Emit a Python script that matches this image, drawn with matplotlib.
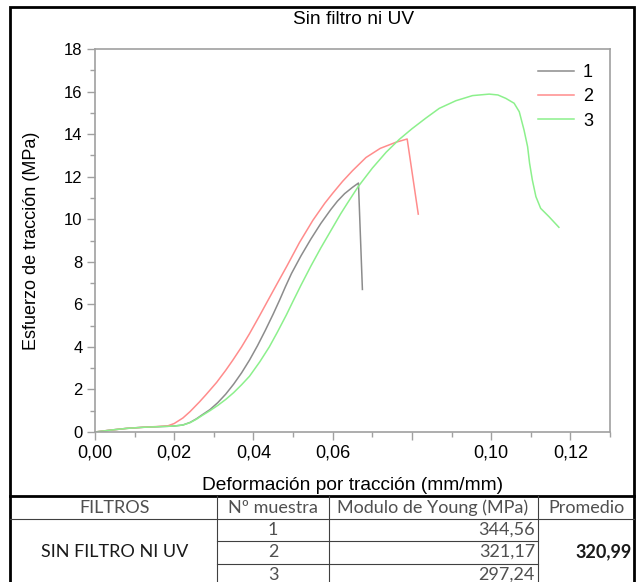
import numpy as np
import matplotlib.pyplot as plt
from matplotlib.lines import Line2D
from matplotlib.patches import Rectangle

# curva 1 (gris)
x1 = [0.0, 0.004, 0.008, 0.012, 0.016, 0.020, 0.0222, 0.024, 0.0256, 0.027, 0.029, 0.031,
      0.033, 0.035, 0.037, 0.039, 0.041, 0.043, 0.045, 0.0466, 0.048, 0.0496, 0.052,
      0.0545, 0.057, 0.0595, 0.0612, 0.063, 0.065, 0.0665, 0.0675]
y1 = [0.0, 0.09, 0.17, 0.22, 0.25, 0.28, 0.33, 0.45, 0.62, 0.80, 1.05, 1.38,
      1.78, 2.25, 2.78, 3.38, 4.05, 4.78, 5.55, 6.20, 6.80, 7.45, 8.28,
      9.07, 9.80, 10.45, 10.85, 11.20, 11.50, 11.70, 6.70]

# curva 2 (roja)
x2 = [0.0, 0.004, 0.008, 0.012, 0.016, 0.0184, 0.020, 0.0222, 0.024, 0.0264, 0.028, 0.0307,
      0.033, 0.0348, 0.037, 0.039, 0.0415, 0.0437, 0.046, 0.0485, 0.0516, 0.055, 0.058,
      0.060, 0.0625, 0.065, 0.0684, 0.072, 0.076, 0.0788, 0.0816]
y2 = [0.0, 0.09, 0.17, 0.22, 0.26, 0.29, 0.40, 0.66, 0.96, 1.42, 1.75, 2.33,
      2.90, 3.38, 4.00, 4.62, 5.45, 6.20, 6.98, 7.82, 8.90, 9.95, 10.75,
      11.22, 11.78, 12.28, 12.90, 13.33, 13.62, 13.77, 10.24]

# curva 3 (verde)
x3 = [0.0, 0.004, 0.008, 0.012, 0.016, 0.020, 0.0222, 0.024, 0.0256, 0.027, 0.029, 0.031,
      0.033, 0.035, 0.037, 0.039, 0.0416, 0.044, 0.046, 0.0483, 0.050, 0.052, 0.0545,
      0.057, 0.0595, 0.062, 0.0637, 0.0665, 0.070, 0.0735, 0.0768, 0.080, 0.0835,
      0.0869, 0.0911, 0.0953, 0.0995, 0.1017, 0.1037, 0.1058, 0.1071, 0.1083, 0.1092,
      0.1097, 0.1104, 0.1113, 0.1125, 0.1146, 0.1171]
y3 = [0.0, 0.09, 0.17, 0.22, 0.25, 0.28, 0.33, 0.44, 0.60, 0.77, 1.00, 1.25,
      1.53, 1.85, 2.22, 2.62, 3.30, 4.00, 4.68, 5.50, 6.15, 6.90, 7.80,
      8.65, 9.45, 10.25, 10.75, 11.55, 12.40, 13.15, 13.75, 14.25, 14.75,
      15.21, 15.57, 15.81, 15.88, 15.84, 15.68, 15.45, 15.05, 14.19, 13.41,
      12.63, 11.84, 11.06, 10.51, 10.12, 9.62]

series = [(x1, y1, "1", "#8c8c8c"), (x2, y2, "2", "#ff8c8c"), (x3, y3, "3", "#8cf08c")]
xtick_labels = ["0,00", "0,02", "0,04", "0,06", "", "0,10", "0,12"]

# tabla
headers = ["FILTROS", "Nº muestra", "Modulo de Young (MPa)", "Promedio"]
filtro = "SIN FILTRO NI UV"
muestras = ["1", "2", "3"]
modulos = ["344,56", "321,17", "297,24"]
promedio = "320,99"

W, H = 636, 582
fig = plt.figure(figsize=(W / 100, H / 100), dpi=100)
plt.rcParams['font.family'] = ['Liberation Sans', 'DejaVu Sans']


def fx(px):
    return px / W


def fy(py):
    return 1 - py / H


ax = fig.add_axes([fx(95), fy(432), fx(610) - fx(95), fy(49) - fy(432)])
for x, y, lab, col in series:
    ax.plot(x, y, color=col, lw=1.1, label=lab)

ax.set_xlim(0, 0.13)
ax.set_ylim(0, 18)
ax.set_xticks(np.arange(0, 0.121, 0.02))
ax.set_xticks(np.arange(0.01, 0.131, 0.02), minor=True)
ax.set_xticklabels(xtick_labels)
ax.set_yticks(np.arange(0, 19, 2))
ax.set_yticks(np.arange(1, 18, 2), minor=True)
for s in ax.spines.values():
    s.set_color("#a0a0a0")
    s.set_linewidth(1.2)
ax.tick_params(which="both", direction="out", color="#a0a0a0", width=1, pad=3)
ax.tick_params(axis="x", labelsize=13)
ax.tick_params(axis="y", labelsize=12)
ax.tick_params(which="major", length=6)
ax.tick_params(which="minor", length=3.5)

ax.set_xlabel("Deformación por tracción (mm/mm)", fontsize=13.8, labelpad=11)
ax.set_ylabel("Esfuerzo de tracción (MPa)", fontsize=13, labelpad=17)
fig.text(fx(354), fy(19), "Sin filtro ni UV", ha="center", va="center", fontsize=13.8)

leg = ax.legend(loc="upper right", frameon=False, fontsize=13, handlelength=2.0,
                handletextpad=0.5, labelspacing=0.4, bbox_to_anchor=(1.0, 1.005),
                borderaxespad=0.55)

# borde exterior
fig.add_artist(Rectangle((fx(10), fy(600)), fx(634) - fx(10), fy(7) - fy(600),
                         fill=False, ec="black", lw=2, transform=fig.transFigure))
fig.add_artist(Line2D([fx(10), fx(634)], [fy(496), fy(496)], color="black", lw=2,
                      transform=fig.transFigure))

# lineas de la tabla
tc = "#404040"


def hline(x0, x1_, y):
    fig.add_artist(Line2D([fx(x0), fx(x1_)], [fy(y), fy(y)], color=tc, lw=0.8,
                          transform=fig.transFigure))


def vline(x, y0, y1_):
    fig.add_artist(Line2D([fx(x), fx(x)], [fy(y0), fy(y1_)], color=tc, lw=0.8,
                          transform=fig.transFigure))


hline(10, 634, 519)
hline(217, 538, 541)
hline(217, 538, 564)
for cx in [217, 329, 538]:
    vline(cx, 496, 590)

tfont = ['Lato', 'DejaVu Sans']
tcol = "#505050"
tsize = 13
centers = [115, 273, 433, 586]
for c, h in zip(centers, headers):
    fig.text(fx(c), fy(508), h, ha="center", va="center", fontsize=tsize, color=tcol, family=tfont)

row_y = [530, 552, 575]
for ry, m, v in zip(row_y, muestras, modulos):
    fig.text(fx(273), fy(ry), m, ha="center", va="center", fontsize=tsize, color=tcol, family=tfont)
    fig.text(fx(535), fy(ry), v, ha="right", va="center", fontsize=tsize, color=tcol, family=tfont)

fig.text(fx(115), fy(552), filtro, ha="center", va="center", fontsize=tsize, color="#1a1a1a", family=tfont)
fig.text(fx(632), fy(552), promedio, ha="right", va="center", fontsize=tsize, color="#1a1a1a",
         family=tfont, weight="bold")

fig.savefig("out.png", dpi=100)
